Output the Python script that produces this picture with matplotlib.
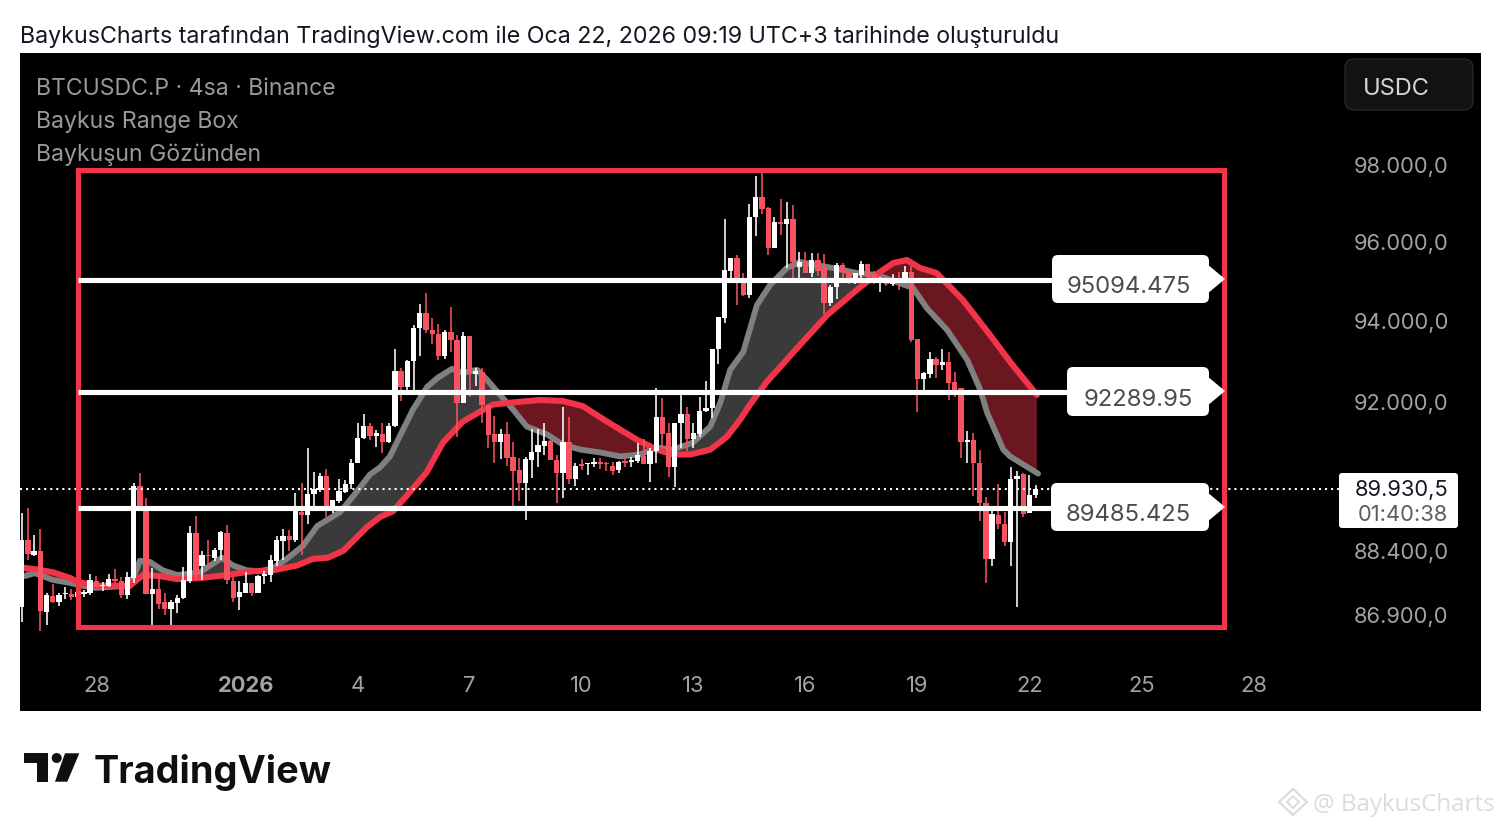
import numpy as np
import matplotlib
matplotlib.use("Agg")
import matplotlib.pyplot as plt
from matplotlib.patches import FancyBboxPatch, Polygon, Circle
from matplotlib.ticker import FixedLocator, NullLocator, FixedFormatter
from matplotlib.transforms import ScaledTranslation

open_ = [87150,88720,88370,88460,87035,87400,87270,87450,87450,87385,87465,87480,87770,87635,87645,87800,87755,87425,87840,90010,
89515,87450,87565,87270,87115,87255,87365,87760,88900,88105,88380,88310,88485,88895,87760,87385,87490,87715,87490,87870,
87895,88235,88705,88820,88735,89395,89315,89830,89915,90260,89500,89650,89875,90050,90555,91165,91465,91230,91260,91080,
91465,92820,92425,93050,93880,94252,93835,93735,93185,93795,93585,92020,93695,92730,92800,91980,91260,91080,91270,90700,
90395,90075,90640,90825,90985,91100,90640,90330,91065,90180,90530,90530,90530,90580,90555,90500,90395,90610,90590,90610,
90745,90540,90865,91675,91285,90475,91545,91760,91150,91270,91830,91895,93360,94145,95330,95645,95150,94715,96695,97230,
96930,95900,96570,96525,96655,95425,95560,95280,95605,95390,94505,94925,95475,95290,95035,95220,95510,95240,95035,95135,
94985,95120,95035,95305,93600,92615,92730,93105,92963,93030,92550,92385,91065,91122,90575,89600,88285,89320,89105,88685,
90185,90295,89360,89800]
high = [89355,89475,88840,88975,87480,87685,87480,87620,87580,87545,87545,87920,87880,87740,87935,88030,87855,87975,90074,90315,
89715,88075,87895,87480,87310,87425,88090,89050,89300,88470,88720,88525,88940,89090,87855,87760,87975,87715,87895,87990,
88365,88815,88995,88955,89855,90074,90920,90340,90330,90410,89673,90170,90155,90660,91545,91760,91545,91365,91545,91530,
93360,92880,93085,93960,94480,94760,94125,93985,93835,94405,93710,93795,93695,92880,92880,91980,91710,91380,91570,91065,
90680,90720,91380,91390,91530,91125,90760,91920,91675,90570,90650,90570,90690,90680,90595,90580,90610,90720,90700,91055,
91140,90920,92400,92140,91530,91545,92220,91940,91530,92165,92565,93360,94170,96645,95645,95730,95280,97040,97770,97880,
96955,96715,97160,97100,97015,95800,95800,95775,95790,95755,94970,95535,95520,95330,95265,95575,95510,95330,95180,95180,
95240,95305,95460,95460,93600,92800,93295,93170,93355,93295,92800,92395,91345,91285,90880,89745,89420,90055,89400,90480,
90375,90318,90280,90040]
low = [86805,88260,88340,86590,86725,87255,87170,87350,87310,87250,87385,87425,87620,87530,87620,87715,87370,87350,87715,89420,
87450,86690,87115,86960,86705,87020,87350,87715,87780,87780,88075,88235,88260,87685,87270,87090,87490,87410,87480,87685,
87740,88105,88250,88470,88680,88365,89100,89500,89875,89260,89355,89595,89855,89930,90555,91140,91125,90945,90795,91055,
91450,92075,92345,92345,93185,93770,93485,93085,93100,93295,91205,92020,92165,92445,91530,90920,90575,90655,90495,89515,
89650,89200,90195,90480,90760,90640,89595,89735,90060,90010,90395,90275,90480,90415,90380,90275,90330,90460,90480,90570,
90540,90100,90575,90960,90235,89980,90920,90855,90920,91205,91815,91670,92985,94020,95135,94465,94700,94632,96215,96770,
95730,95900,96240,95390,95135,95135,95265,95180,95195,94230,94445,94605,95120,94985,94985,95135,95135,94985,94800,94950,
94950,94840,95035,93545,91810,92345,92630,92630,92840,92100,92165,90680,90575,89760,89185,87720,88120,88985,88590,88110,
87160,89260,89360,89735]
close = [88720,88390,88470,87050,87425,87270,87425,87490,87385,87505,87505,87780,87620,87675,87800,87755,87425,87855,90010,89515,
87450,87580,87230,87115,87270,87370,87780,88895,87895,88370,88350,88500,88910,87780,87370,87505,87715,87480,87870,87935,
88250,88720,88820,88735,89435,89315,89830,89940,90260,89515,89673,89900,90050,90555,91165,91465,91230,91284,91080,91465,
92820,92425,93070,93890,94252,93835,93735,93185,93795,93585,92020,93695,92730,92820,91980,91245,91080,91270,90695,90380,
90075,90665,90825,91000,91100,90640,90330,91065,90180,90500,90490,90555,90595,90530,90530,90380,90600,90570,90640,90760,
90540,90865,91675,91270,90475,91545,91760,91150,91285,91830,91895,93360,94170,95350,95645,95150,94715,96715,97230,96910,
95900,96585,96535,96655,95545,95560,95280,95605,95330,94505,94925,95475,95290,95010,95265,95510,95180,95095,95155,94985,
95135,95050,95305,93585,92615,92755,93105,92963,93030,92530,92345,91065,91122,90575,89600,88285,89335,89095,88670,90185,
90255,89340,89800,89930]

slow_x = [0,2.5,5,7.8,9,11.8,15.8,17.4,19.5,22.2,25,28.7,33,37.2,40.4,44.3,46.8,49.2,51.7,55.5,57.6,59.7,62.4,65.1,67.7,70.9,73.7,75.8,79,83.3,87,90.2,94.1,98.9,102.1,104.7,107.5,110.7,113.4,115.5,117.1,119.8,125.1,129.5,134.8,138,140.1,142.3,144.4,147.1,151.3,155.7,158.9,163.2]
slow_y = [88075,88030,87965,87830,87740,87650,87650,87650,87900,87875,87805,87830,87900,87990,88010,88125,88280,88305,88470,89030,89270,89410,89865,90340,91055,91570,91815,91990,92040,92100,92075,91950,91570,91130,90890,90770,90770,90890,91205,91620,91990,92550,93460,94210,94915,95300,95525,95602,95400,95270,94590,93705,93040,92225]
fast_x = [0.5,2.1,2.9,5,7.8,9,11.8,17.4,19,20.6,22.7,25,28.7,30.3,32.2,34,36.2,38.3,40.4,42.6,45.2,47.5,51.2,53.3,56,57.6,59.2,61.3,62.9,65.2,66.9,69.2,70.9,73.2,74.8,76.9,79,81.2,84.5,87,89.8,93,96.2,99.4,102.1,104.7,107.9,110.7,112.3,113.9,116,118.2,120.3,123,125.1,130.4,134.3,137.5,143.3,145.5,148.8,152,154.1,155.2,157.8,158.9,161,163.4]
fast_y = [87875,87945,87900,87785,87715,87670,87600,87650,88235,88210,88010,87900,87965,88125,88305,88125,88010,87990,88055,88280,88585,89055,89390,89770,90290,90460,90725,91375,91865,92425,92650,92870,92770,92845,92600,92225,91865,91450,91255,91010,90890,90820,90725,90770,90940,90890,91060,91450,92030,92845,93290,94460,94965,95400,95550,95400,95270,95220,94890,94385,93830,93090,92350,91790,90890,90725,90530,90310]

levels = [95094.475, 92289.95, 89485.425]
level_labels = ["95094.475", "92289.95", "89485.425"]
last_price = 89930.5
box_top, box_bottom = 97915, 86690
box_left, box_right = 9.05, 193.3
y_ticks = [98000, 96000, 94000, 92000, 88400, 86900]
y_tick_labels = ["98.000,0", "96.000,0", "94.000,0", "92.000,0", "88.400,0", "86.900,0"]
x_ticks = [12, 36, 54, 72, 90, 108, 126, 144, 162, 180, 198]
x_tick_labels = ["28", "2026", "4", "7", "10", "13", "16", "19", "22", "25", "28"]

W, H = 1501, 828
FONT = "Inter"
plt.rcParams["font.family"] = [FONT, "DejaVu Sans"]
RED = "#f7525f"
LINE_RED = "#f23448"
GRAY = "#808080"
TXT = "#a3a3a3"

fig = plt.figure(figsize=(W / 100, H / 100), dpi=100, facecolor="white")
ax = fig.add_axes([20 / W, 1 - 712 / H, (1481 - 20) / W, (712 - 54) / H], facecolor="black")
ax.set_yscale("log")
ax.set_xlim(-0.273, 234.6)
ax.set_ylim(84770, 101028)
for s in ax.spines.values():
    s.set_visible(False)

# band between the two averages
grid = np.arange(0.5, 163.21, 0.1)
sl = np.interp(grid, slow_x, slow_y)
fa = np.interp(grid, fast_x, fast_y)
ax.fill_between(grid, sl, fa, where=fa >= sl, interpolate=True, color="#3a3a3a", lw=0, zorder=1)
ax.fill_between(grid, sl, fa, where=fa < sl, interpolate=True, color="#6b171f", lw=0, zorder=1)
ax.plot(fast_x, fast_y, color=GRAY, lw=4.2, zorder=2, solid_capstyle="round", solid_joinstyle="round")
ax.plot(slow_x, slow_y, color=LINE_RED, lw=4.4, zorder=2.2, solid_capstyle="round", solid_joinstyle="round")

# candles
idx = np.arange(len(close))
o, h, l, c = map(np.array, (open_, high, low, close))
cols = np.where(c >= o, "#ffffff", RED)
ax.vlines(idx, l, h, colors=cols, lw=1.15, zorder=3)
ax.bar(idx, np.maximum(np.abs(c - o), 8), bottom=np.minimum(o, c), width=0.85, color=cols, lw=0, zorder=3.1)

ax.plot([box_left, box_right, box_right, box_left, box_left],
        [box_top, box_top, box_bottom, box_bottom, box_top],
        color=LINE_RED, lw=3.7, zorder=4, solid_joinstyle="miter")
ax.hlines(levels, box_left, 191, colors="white", lw=3.7, zorder=5)
ax.plot([-0.273, 211.8], [last_price, last_price], color="white", lw=1.5, ls=(0, (1, 1.9)), zorder=3.5)

# axis labels inside the plot
ax.yaxis.set_major_locator(FixedLocator(y_ticks))
ax.yaxis.set_major_formatter(FixedFormatter(y_tick_labels))
ax.yaxis.set_minor_locator(NullLocator())
ax.yaxis.tick_right()
ax.tick_params(axis="y", which="both", length=0, pad=-(127 * 0.72), labelsize=15.8, labelcolor=TXT)
up = ScaledTranslation(0, 3.5 / 100, fig.dpi_scale_trans)
for lbl in ax.get_yticklabels():
    lbl.set_transform(lbl.get_transform() + up)
ax.set_xticks(x_ticks)
ax.set_xticklabels(x_tick_labels)
ax.tick_params(axis="x", length=0, pad=-(36 * 0.72), labelsize=15.8, labelcolor=TXT)
ax.get_xticklabels()[1].set_fontweight("bold")

# page overlay in pixel units
ov = fig.add_axes([0, 0, 1, 1], facecolor="none")
ov.set_xlim(0, W)
ov.set_ylim(H, 0)
ov.axis("off")
ov.set_zorder(10)

ov.text(20, 37, "BaykusCharts tarafından TradingView.com ile Oca 22, 2026 09:19 UTC+3 tarihinde oluşturuldu",
        fontsize=16.74, color="#131722", va="center", ha="left")
for y, t in zip((89, 122, 155), ("BTCUSDC.P · 4sa · Binance", "Baykus Range Box", "Baykuşun Gözünden")):
    ov.text(36, y, t, fontsize=16.6, color="#999999", va="center", ha="left")

ov.add_patch(FancyBboxPatch((1345 + 8, 60 + 8), 128 - 16, 51 - 16, boxstyle="round,pad=8,rounding_size=9",
                            fc="#121212", ec="#2c2c2c", lw=0.8))
ov.text(1363, 89, "USDC", fontsize=17, color="#d6d6d6", va="center", ha="left")

ov.add_patch(FancyBboxPatch((1339 + 3, 474 + 3), 119 - 6, 55 - 6, boxstyle="round,pad=3,rounding_size=3", fc="white", ec="none"))
ov.text(1448, 490, "89.930,5", fontsize=15.8, color="#131722", va="center", ha="right")
ov.text(1448, 515, "01:40:38", fontsize=15.8, color="#5d5d5d", va="center", ha="right")

tags = [(1052, 256, 304, 280, 1129, 287), (1067, 368, 417, 392, 1138, 400), (1051, 484, 532, 508, 1128, 515)]
for (x0, y0, y1, ym, tx, ty), lab in zip(tags, level_labels):
    ov.add_patch(FancyBboxPatch((x0 + 6, y0 + 6), 1209 - x0 - 12, y1 - y0 - 12, boxstyle="round,pad=6,rounding_size=6", fc="white", ec="none"))
    ov.add_patch(Polygon([(1207, ym - 15), (1225, ym), (1207, ym + 15)], closed=True, fc="white", ec="none"))
    ov.text(tx, ty, lab, fontsize=17.2, color="#4c4c4c", va="center", ha="center")

# TradingView mark
ov.add_patch(Polygon([(24, 754.3), (48.3, 754.3), (48.3, 782.7), (37.3, 782.7), (37.3, 764), (24, 764)], closed=True, fc="#0f0f0f", ec="none"))
ov.add_patch(Circle((56.7, 759), 5, fc="#0f0f0f", ec="none"))
ov.add_patch(Polygon([(65, 754.3), (79.3, 754.3), (67.3, 782.7), (55, 782.7)], closed=True, fc="#0f0f0f", ec="none"))
ov.text(94, 782.7, "TradingView", fontsize=27.3, fontweight="bold", color="#0f0f0f", va="baseline", ha="left")

# watermark
WM = "#dcdcdc"
ov.add_patch(Polygon([(1293, 790), (1307, 803), (1293, 816), (1279, 803)], closed=True, fc="none", ec=WM, lw=1.6))
ov.add_patch(Polygon([(1293, 797), (1299, 803), (1293, 809), (1287, 803)], closed=True, fc="none", ec=WM, lw=1.4))
ov.text(1313, 805, "@ BaykusCharts", fontsize=17.4, color=WM, va="center", ha="left", family="Open Sans")

fig.savefig("out.png", dpi=100, facecolor="white")
